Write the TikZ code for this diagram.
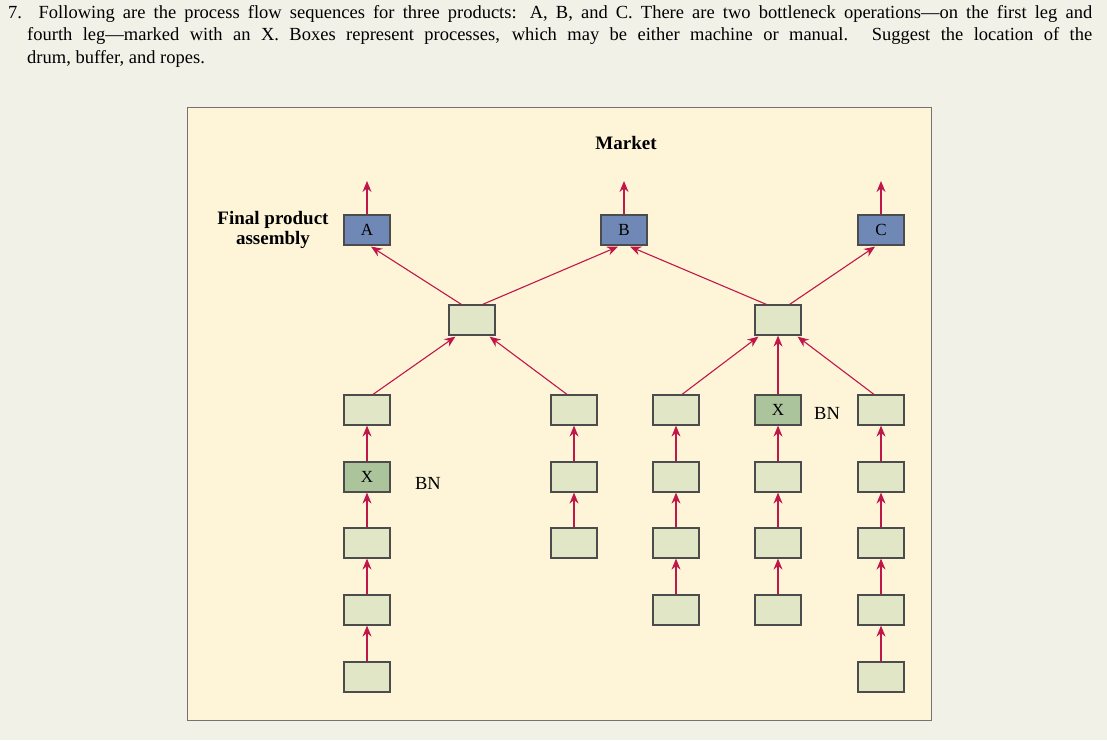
\documentclass[tikz,border=0pt]{standalone}
\usepackage{fontspec}
\setmainfont{Liberation Serif}
\usetikzlibrary{arrows.meta,calc}
\definecolor{pagebg}{HTML}{F2F1E8}
\definecolor{panel}{HTML}{FEF5D9}
\definecolor{arr}{HTML}{C0174A}
\definecolor{gbox}{HTML}{E0E6C6}
\definecolor{xbox}{HTML}{ABC49C}
\definecolor{bbox}{HTML}{7088B6}
\tikzset{
 pbox/.style={draw=black!70,line width=1.2pt,fill=gbox,minimum width=46pt,minimum height=30pt,inner sep=0pt,font=\fontsize{17}{17}\selectfont},
 xb/.style={pbox,fill=xbox},
 bb/.style={pbox,fill=bbox},
 fl/.style={draw=arr,line width=1.1pt,-{Stealth[length=11pt,width=9pt]}},
 lbl/.style={font=\bfseries\fontsize{19}{19}\selectfont,inner sep=0pt}
}
\begin{document}
\begin{tikzpicture}[x=1pt,y=-1pt]
\fill[pagebg] (0,0) rectangle (1107,740);
\useasboundingbox (0,0) rectangle (1107,740);
\node[anchor=north west,text width=1084pt,align=justify,inner sep=0pt,font=\fontsize{18.5}{22.5}\selectfont] (q) at (8,5)
{\parindent=0pt\hangindent=19pt\hangafter=1 7. Following are the process flow sequences for three products: A, B, and C. There are two bottleneck operations---on the first leg and\linebreak fourth leg---marked with an X. Boxes represent processes, which may be either machine or manual. Suggest the location of the\linebreak drum, buffer, and ropes.\par};
\draw[fill=panel,draw=black!55,line width=1pt] (187,107) rectangle (931,720);
\node[lbl] (market) at (626,143) {Market};
\node[lbl,align=center,font=\bfseries\fontsize{19}{20}\selectfont] (fpa) at (273,230) {Final product\\assembly};
% top
\node[bb] (A) at (367,230) {A};
\node[bb] (B) at (624,230) {B};
\node[bb] (C) at (881,230) {C};
\coordinate (a0) at (367,181); \coordinate (b0) at (624,181); \coordinate (c0) at (881,181);
\draw[fl] (A) -- (a0); \draw[fl] (B) -- (b0); \draw[fl] (C) -- (c0);
% middle
\node[pbox] (m1) at (472,320) {};
\node[pbox] (m2) at (778,320) {};
% columns
\foreach \n/\x in {1/367,2/574,3/676,4/778,5/881}{
  \foreach \r/\y in {1/410,2/477,3/543,4/610,5/677}{
    \coordinate (p\n\r) at (\x,\y);
  }
}
\node[pbox] (c11) at (p11) {};
\node[xb] (c12) at (p12) {X};
\node[pbox] (c13) at (p13) {};
\node[pbox] (c14) at (p14) {};
\node[pbox] (c15) at (p15) {};
\node[pbox] (c21) at (p21) {};
\node[pbox] (c22) at (p22) {};
\node[pbox] (c23) at (p23) {};
\node[pbox] (c31) at (p31) {};
\node[pbox] (c32) at (p32) {};
\node[pbox] (c33) at (p33) {};
\node[pbox] (c34) at (p34) {};
\node[xb] (c41) at (p41) {X};
\node[pbox] (c42) at (p42) {};
\node[pbox] (c43) at (p43) {};
\node[pbox] (c44) at (p44) {};
\node[pbox] (c51) at (p51) {};
\node[pbox] (c52) at (p52) {};
\node[pbox] (c53) at (p53) {};
\node[pbox] (c54) at (p54) {};
\node[pbox] (c55) at (p55) {};
\node[font=\fontsize{18.5}{18.5}\selectfont] (bn1) at (428,483) {BN};
\node[font=\fontsize{18.5}{18.5}\selectfont] (bn2) at (827,413) {BN};
% vertical arrows
\foreach \a/\b in {c12/c11,c13/c12,c14/c13,c15/c14,c22/c21,c23/c22,c32/c31,c33/c32,c34/c33,c42/c41,c43/c42,c44/c43,c52/c51,c53/c52,c54/c53,c55/c54}{
  \draw[fl] (\a.north) -- (\b.south);
}
% diagonals
\draw[fl] ($(c11.north)+(6,0)$) -- ($(m1.south west)+(7,1)$);
\draw[fl] ($(c21.north)+(-7,0)$) -- ($(m1.south east)+(-6,1)$);
\draw[fl] ($(m1.north west)+(13,0)$) -- ($(A.south)+(4,1)$);
\draw[fl] ($(m1.north east)+(-13,0)$) -- ($(B.south)+(-6,1)$);
\draw[fl] ($(c31.north)+(6,0)$) -- ($(m2.south west)+(4,1)$);
\draw[fl] (c41.north) -- (m2.south);
\draw[fl] ($(c51.north)+(-7,0)$) -- ($(m2.south east)+(-4,1)$);
\draw[fl] ($(m2.north west)+(12,0)$) -- ($(B.south)+(6,1)$);
\draw[fl] ($(m2.north east)+(-12,0)$) -- ($(C.south)+(-6,1)$);
\end{tikzpicture}
\end{document}
